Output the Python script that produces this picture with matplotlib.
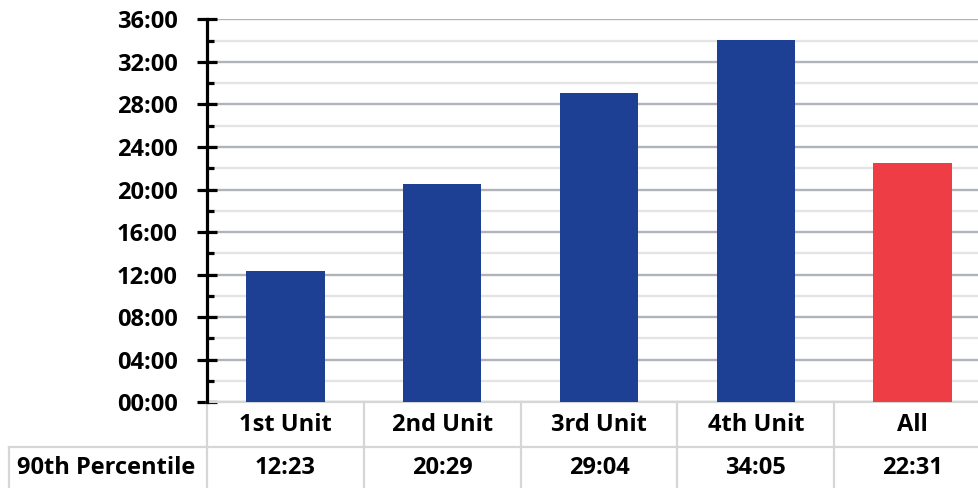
import matplotlib.pyplot as plt
from matplotlib.ticker import MultipleLocator, FuncFormatter
from matplotlib.lines import Line2D

plt.rcParams['font.family'] = ['Open Sans', 'DejaVu Sans']
plt.rcParams['font.weight'] = 'bold'

units = ['1st Unit', '2nd Unit', '3rd Unit', '4th Unit', 'All']
p90_labels = ['12:23', '20:29', '29:04', '34:05', '22:31']
bar_colors = ['#1d3f94', '#1d3f94', '#1d3f94', '#1d3f94', '#ee3d44']
row_title = '90th Percentile'


def to_minutes(s):
    m, sec = s.split(':')
    return int(m) + int(sec) / 60.0


p90_minutes = [to_minutes(s) for s in p90_labels]

fig = plt.figure(figsize=(9.79, 4.88), dpi=100)
# axes runs a little past the right edge of the figure
ax = fig.add_axes([207 / 979, 85.7 / 488, 784 / 979, 383 / 488])

x = range(len(units))
ax.bar(x, p90_minutes, width=0.5, color=bar_colors, zorder=3)
ax.set_xlim(-0.5, len(units) - 0.5)
ax.set_ylim(0, 36)

fs = 17
ax.yaxis.set_major_locator(MultipleLocator(4))
ax.yaxis.set_minor_locator(MultipleLocator(2))
ax.yaxis.set_major_formatter(FuncFormatter(lambda v, p: f'{int(round(v)):02d}:00'))
ax.tick_params(axis='y', which='major', direction='inout', length=14, width=2.3,
               pad=14, labelsize=fs)
ax.tick_params(axis='y', which='minor', direction='in', length=5, width=2.3)
ax.set_xticks([])

ax.grid(axis='y', which='major', color='#b0b4b8', linewidth=1.7, zorder=0)
ax.grid(axis='y', which='minor', color='#e4e4e4', linewidth=1.7, zorder=0)

for side in ['top', 'right', 'bottom']:
    ax.spines[side].set_visible(False)
ax.spines['left'].set_linewidth(2.3)
ax.spines['left'].set_zorder(5)

# data table under the plot
tbl_color = '#d6d6d6'
tbl_lw = 1.6
row_h = 45 / 383  # in axes fraction
kw = dict(transform=ax.get_xaxis_transform(), clip_on=False, color=tbl_color,
          linewidth=tbl_lw)
ax.add_line(Line2D([-0.5, len(units) - 0.5], [0, 0], **kw))
ax.add_line(Line2D([-0.5, len(units) - 0.5], [-row_h, -row_h], **kw))
for i in range(len(units) + 1):
    ax.add_line(Line2D([i - 0.5, i - 0.5], [0, -0.3], **kw))
for i, (u, lab) in enumerate(zip(units, p90_labels)):
    ax.text(i, -23 / 383, u, transform=ax.get_xaxis_transform(), ha='center',
            va='center', fontsize=fs, fontweight='bold')
    ax.text(i, -66 / 383, lab, transform=ax.get_xaxis_transform(), ha='center',
            va='center', fontsize=fs, fontweight='bold')

# row header cell on the left
fig.add_artist(Line2D([9 / 979, 207 / 979], [41 / 488, 41 / 488], color=tbl_color,
                      linewidth=tbl_lw))
fig.add_artist(Line2D([9 / 979, 9 / 979], [0, 41 / 488], color=tbl_color,
                      linewidth=tbl_lw))
fig.text(106 / 979, 20 / 488, row_title, ha='center', va='center', fontsize=fs,
         fontweight='bold')

fig.savefig('out.png', dpi=100)
